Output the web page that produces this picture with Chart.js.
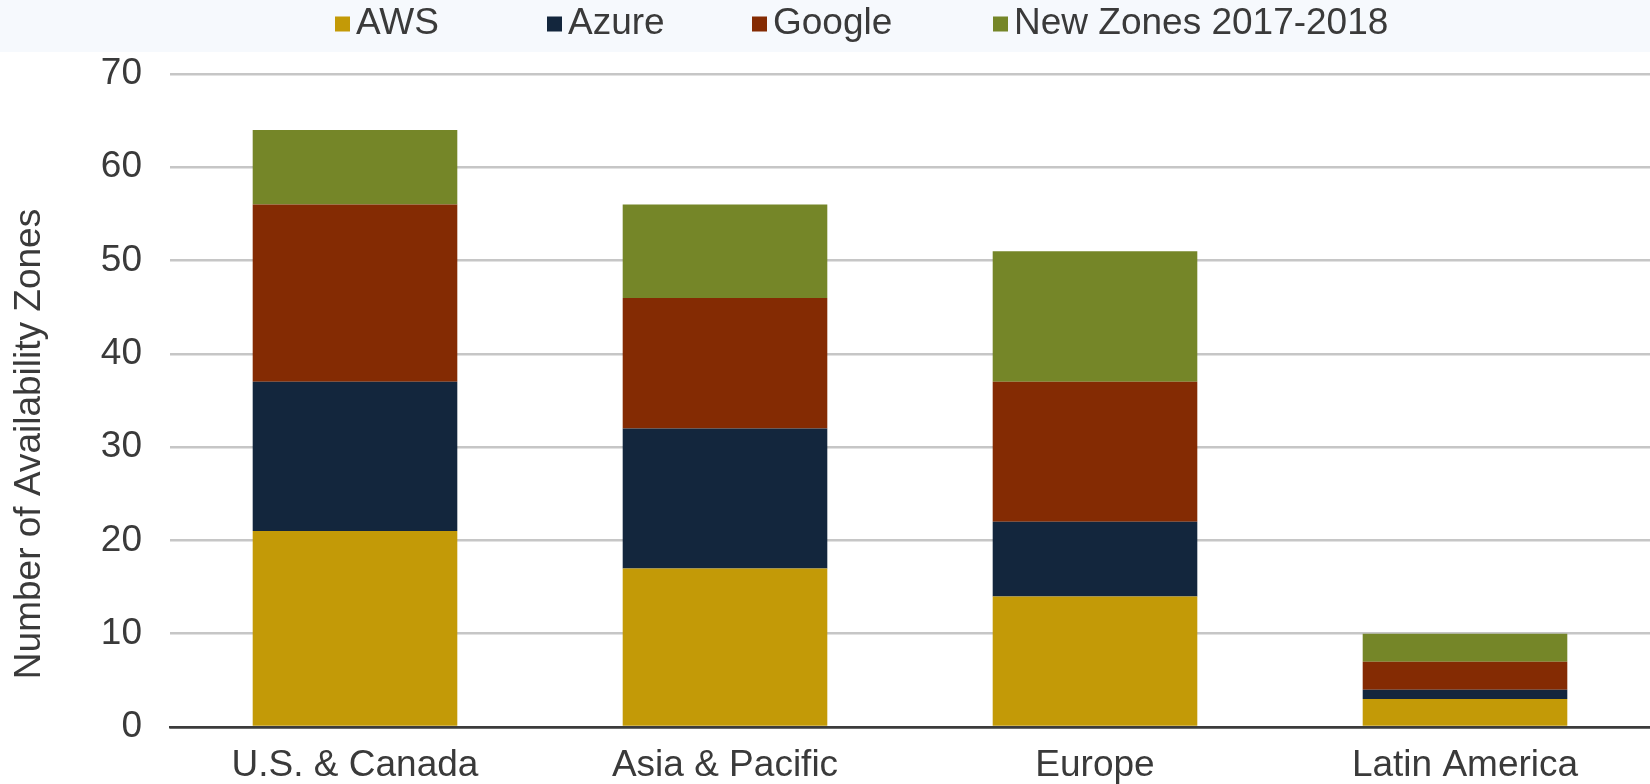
<!DOCTYPE html>
<html>
<head>
<meta charset="utf-8">
<script src="https://cdn.jsdelivr.net/npm/chart.js@4"></script>
<style>
  html, body { margin: 0; padding: 0; background: #ffffff; }
  #wrap { width: 1650px; height: 784px; position: relative; }
</style>
</head>
<body>
<div id="wrap"><canvas id="c" width="1650" height="784"></canvas></div>
<script>
const categories = ['U.S. & Canada', 'Asia & Pacific', 'Europe', 'Latin America'];
const seriesNames = ['AWS', 'Azure', 'Google', 'New Zones 2017-2018'];
const awsValues = [21, 17, 14, 3];
const azureValues = [16, 15, 8, 1];
const googleValues = [19, 14, 15, 3];
const newZonesValues = [8, 10, 14, 3];
const yTicks = [0, 10, 20, 30, 40, 50, 60, 70];
const yAxisTitle = 'Number of Availability Zones';

const colors = ['#C39A07', '#13263D', '#842B03', '#758628'];
const FONT = "'Liberation Sans', Arial, sans-serif";
const TEXT = '#3a3a3a';

const extras = {
  id: 'extras',
  beforeDraw(chart) {
    const ctx = chart.ctx;
    ctx.save();
    ctx.fillStyle = '#F6F9FD';
    ctx.fillRect(0, 0, chart.width, 52);
    ctx.restore();
  },
  afterDraw(chart) {
    const ctx = chart.ctx;
    ctx.save();
    ctx.font = '37px ' + FONT;
    ctx.textBaseline = 'middle';
    // legend
    const box = 15, gap = 6;
    const boxX = [335, 547, 752, 993];
    const ly = 24;
    chart.data.datasets.forEach((d, i) => {
      ctx.fillStyle = d.backgroundColor;
      ctx.fillRect(boxX[i], ly - box / 2, box, box);
      ctx.fillStyle = TEXT;
      ctx.textAlign = 'left';
      ctx.fillText(d.label, boxX[i] + box + gap, ly);
    });
    // y axis title
    ctx.translate(30, 444);
    ctx.rotate(-Math.PI / 2);
    ctx.textAlign = 'center';
    ctx.fillStyle = TEXT;
    ctx.fillText(yAxisTitle, 0, 0);
    ctx.restore();
  }
};

const values = [awsValues, azureValues, googleValues, newZonesValues];

new Chart(document.getElementById('c'), {
  type: 'bar',
  data: {
    labels: categories,
    datasets: seriesNames.map((n, i) => ({
      label: n,
      data: values[i],
      backgroundColor: colors[i],
      borderWidth: 0,
      barPercentage: 0.553,
      categoryPercentage: 1.0
    }))
  },
  options: {
    responsive: false,
    animation: false,
    layout: { padding: { top: 74, right: 0, bottom: 0, left: 0 } },
    plugins: {
      legend: { display: false },
      tooltip: { enabled: false },
      title: { display: false }
    },
    scales: {
      x: {
        stacked: true,
        grid: { display: false },
        border: { display: true, color: '#3c3c3c', width: 2.5, z: 1 },
        ticks: { font: { family: FONT, size: 37 }, color: TEXT, padding: 9, maxRotation: 0, autoSkip: false },
        afterFit(scale) { scale.height = 57; }
      },
      y: {
        stacked: true,
        min: 0,
        max: 70,
        afterBuildTicks(scale) { scale.ticks = yTicks.map(v => ({ value: v })); },
        grid: {
          color: (c) => (c.tick && c.tick.value === 0) ? '#3c3c3c' : '#C6C6C6',
          lineWidth: 2.5,
          drawTicks: false
        },
        border: { display: false },
        ticks: { font: { family: FONT, size: 37 }, color: TEXT, padding: 28 },
        afterFit(scale) { scale.width = 170; }
      }
    }
  },
  plugins: [extras]
});
</script>
</body>
</html>
